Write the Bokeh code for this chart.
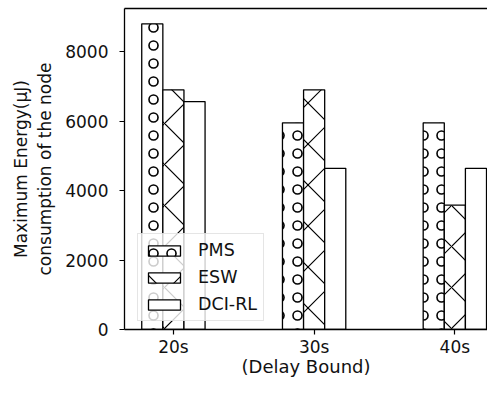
import numpy as np
from bokeh.plotting import figure
from bokeh.models import (ColumnDataSource, FixedTicker, LinearAxis, Range1d,
                          Legend, LegendItem)
from bokeh.transform import dodge
from bokeh.embed import file_html
from bokeh.resources import INLINE

categories = ["20s", "30s", "40s"]
pms = [8800, 5950, 5950]
esw = [6900, 6900, 3580]
dci_rl = [6560, 4640, 4640]
series_names = ["PMS", "ESW", "DCI-RL"]
y_ticks = [0, 2000, 4000, 6000, 8000]
x_label = "(Delay Bound)"
y_label = "Maximum Energy(\u03bcJ)\nconsumption of the node"

FONT = "DejaVu Sans"
FS = "17px"
bar_w = 0.15
idx = np.arange(len(categories))

p = figure(width=487, height=379, output_backend="svg", toolbar_location=None,
           x_range=Range1d(-0.3475, 2.232), y_range=Range1d(0, 9240),
           min_border_left=124, min_border_right=0, min_border_top=8,
           min_border_bottom=0)
p.outline_line_color = None
p.xgrid.visible = False
p.ygrid.visible = False
p.background_fill_color = "white"
p.border_fill_color = "white"

src = ColumnDataSource(dict(x=idx, pms=pms, esw=esw, dci=dci_rl))
common = dict(width=bar_w, bottom=0, source=src, fill_color="white",
              line_color="black", line_width=1.3, hatch_color="black")
r1 = p.vbar(x=dodge("x", -bar_w), top="pms", hatch_pattern="ring",
            hatch_scale=18, hatch_weight=1.6, **common)
r2 = p.vbar(x=dodge("x", 0), top="esw", hatch_pattern="diagonal_cross",
            hatch_scale=41, hatch_weight=1.2, **common)
r3 = p.vbar(x=dodge("x", bar_w), top="dci", **common)

for ax in (p.xaxis[0], p.yaxis[0]):
    ax.axis_line_width = 1.3
    ax.axis_line_color = "black"
    ax.major_tick_line_color = "black"
    ax.major_tick_line_width = 1.2
    ax.major_tick_out = 5
    ax.major_tick_in = 0
    ax.minor_tick_line_color = None
    ax.major_label_text_font = FONT
    ax.major_label_text_font_size = FS
    ax.major_label_text_color = "#111111"
    ax.axis_label_text_font = FONT
    ax.axis_label_text_font_style = "normal"
    ax.axis_label_text_color = "#111111"

p.xaxis.ticker = FixedTicker(ticks=[int(i) for i in idx])
p.xaxis.major_label_overrides = {int(i): c for i, c in zip(idx, categories)}
p.xaxis.axis_label = x_label
p.xaxis.axis_label_text_font_size = "18px"
p.xaxis.major_label_standoff = 2
p.xaxis.axis_label_standoff = -4

p.yaxis.ticker = FixedTicker(ticks=y_ticks)
p.yaxis.axis_label = y_label
p.yaxis.axis_label_text_font_size = "17px"
p.yaxis.major_label_standoff = 11
p.yaxis.axis_label_standoff = 7

top_axis = LinearAxis(ticker=FixedTicker(ticks=[]), axis_line_color="black",
                      axis_line_width=1.3, major_tick_out=0, major_tick_in=0,
                      minor_tick_out=0, minor_tick_in=0,
                      major_label_standoff=0,
                      major_label_text_font_size="0px")
p.add_layout(top_axis, "above")

legend = Legend(items=[LegendItem(label=n, renderers=[r])
                       for n, r in zip(series_names, [r1, r2, r3])],
                location=(13, 8), glyph_width=40, glyph_height=13,
                label_text_font=FONT, label_text_font_size="17.5px",
                label_text_color="#111111", label_standoff=14, spacing=7,
                padding=6, margin=0, border_line_color="#cccccc",
                border_line_width=1.2, background_fill_alpha=0.8)
p.add_layout(legend)

open("out.html", "w").write(file_html(p, INLINE))
